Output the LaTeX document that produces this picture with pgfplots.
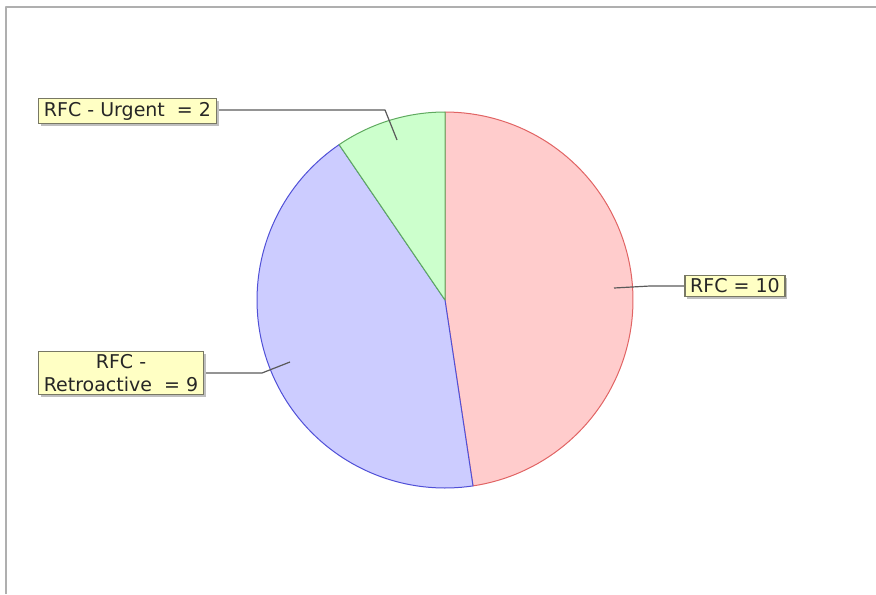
\documentclass[border=0pt]{standalone}
\usepackage{pgfplots}
\pgfplotsset{compat=1.18}
\usepackage{fontspec}
\setmainfont{DejaVu Sans}
\usetikzlibrary{shadows}
\definecolor{pinkF}{RGB}{255,204,204}
\definecolor{pinkD}{RGB}{225,100,100}
\definecolor{blueF}{RGB}{204,204,255}
\definecolor{blueD}{RGB}{80,80,215}
\definecolor{greenF}{RGB}{204,255,204}
\definecolor{greenD}{RGB}{95,170,95}
\definecolor{boxF}{RGB}{255,255,196}
\definecolor{boxD}{RGB}{120,120,100}
\definecolor{leadC}{RGB}{90,90,90}
\definecolor{frameC}{RGB}{175,175,175}
% data
\def\vRFC{10}
\def\vRetro{9}
\def\vUrg{2}
\pgfmathsetmacro{\tot}{\vRFC+\vRetro+\vUrg}
\pgfmathsetmacro{\aA}{90}
\pgfmathsetmacro{\aB}{90-360*\vRFC/\tot}
\pgfmathsetmacro{\aC}{\aB-360*\vRetro/\tot}
\pgfmathsetmacro{\aD}{\aC-360*\vUrg/\tot}
\def\cx{445}
\def\cy{300}
\def\rr{188}
\begin{document}
\begin{tikzpicture}
\begin{axis}[
  width=438pt, height=297pt, scale only axis,
  xmin=0, xmax=876, ymin=0, ymax=594, y dir=reverse,
  hide axis, clip=false,
  every axis plot/.append style={line join=round}
]
% frame
\addplot[frameC, line width=1pt] coordinates {(6,594) (6,7) (876,7)};
% slices
\addplot[fill=pinkF, draw=pinkD, line width=0.5pt, domain=\aB:\aA, samples=90, variable=\t]
  ({\cx+\rr*cos(\t)}, {\cy-\rr*sin(\t)}) -- (axis cs:\cx,\cy) -- cycle;
\addplot[fill=blueF, draw=blueD, line width=0.5pt, domain=\aC:\aB, samples=90, variable=\t]
  ({\cx+\rr*cos(\t)}, {\cy-\rr*sin(\t)}) -- (axis cs:\cx,\cy) -- cycle;
\addplot[fill=greenF, draw=greenD, line width=0.5pt, domain=\aD:\aC, samples=30, variable=\t]
  ({\cx+\rr*cos(\t)}, {\cy-\rr*sin(\t)}) -- (axis cs:\cx,\cy) -- cycle;
% leader lines
\addplot[leadC, line width=0.6pt] coordinates {(218,110) (385,110) (397,140)};
\addplot[leadC, line width=0.6pt] coordinates {(686,286) (650,286) (614,288)};
\addplot[leadC, line width=0.6pt] coordinates {(205,373) (262,373) (290,362)};
% labels
\tikzset{lbl/.style={fill=boxF, draw=boxD, line width=0.6pt, inner xsep=2.6pt, inner ysep=1.6pt,
  font=\fontsize{9.5}{11.2}\selectfont, text=black!85, align=center,
  drop shadow={shadow xshift=1.2pt, shadow yshift=-1.2pt, fill=black!25, opacity=1}}}
\node[lbl] at (axis cs:127.5,111) {RFC - Urgent\ \ = 2};
\node[lbl] at (axis cs:735,286) {RFC = 10};
\node[lbl] at (axis cs:121,373) {RFC -\\Retroactive\ \ = 9};
\end{axis}
\pgfresetboundingbox
\path (current axis.south west) rectangle (current axis.north east);
\end{tikzpicture}
\end{document}
